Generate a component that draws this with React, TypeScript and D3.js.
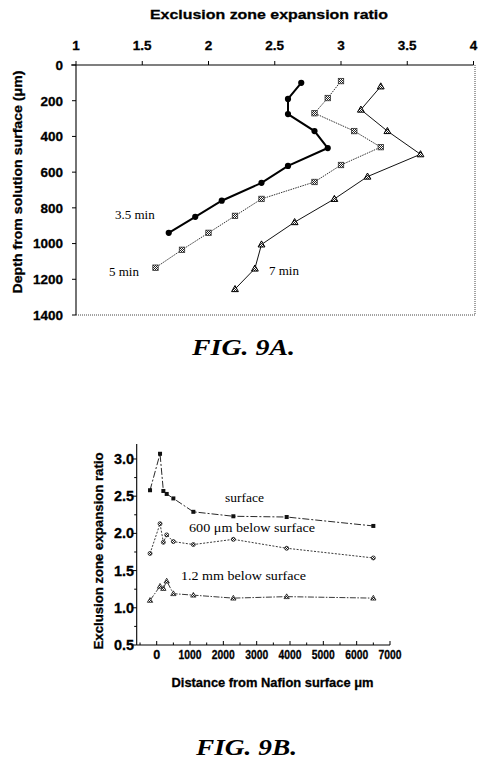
import React from 'react';
import * as d3 from 'd3';

// ---------- FIG 9A data ----------
const depthTicks = [0, 200, 400, 600, 800, 1000, 1200, 1400];
const ratioTicksTop = [1, 1.5, 2, 2.5, 3, 3.5, 4];

const min35Ratio = [2.7, 2.6, 2.6, 2.8, 2.9, 2.6, 2.4, 2.1, 1.9, 1.7];
const min35Depth = [100, 190, 275, 370, 465, 565, 660, 760, 850, 940];
const min5Ratio = [3.0, 2.9, 2.8, 3.1, 3.3, 3.0, 2.8, 2.4, 2.2, 2.0, 1.8, 1.6];
const min5Depth = [90, 185, 270, 370, 460, 560, 655, 750, 845, 940, 1035, 1135];
const min7Ratio = [3.3, 3.15, 3.35, 3.6, 3.2, 2.95, 2.65, 2.4, 2.35, 2.2];
const min7Depth = [120, 250, 370, 500, 625, 750, 880, 1005, 1140, 1255];

// ---------- FIG 9B data ----------
const distance = [-200, 100, 200, 300, 500, 1100, 2300, 3900, 6500];
const surfaceRatio = [2.58, 3.07, 2.57, 2.53, 2.47, 2.29, 2.23, 2.22, 2.1];
const below600Ratio = [1.73, 2.13, 1.88, 1.98, 1.89, 1.85, 1.92, 1.8, 1.67];
const below1200Ratio = [1.1, 1.29, 1.26, 1.36, 1.19, 1.17, 1.13, 1.15, 1.13];
const distanceTicks = [0, 1000, 2000, 3000, 4000, 5000, 6000, 7000];
const ratioTicksBottom = [0.5, 1.0, 1.5, 2.0, 2.5, 3.0];

const SANS = '"Liberation Sans", Arial, sans-serif';
const SERIF = '"Liberation Serif", "Times New Roman", serif';

export default function App() {
  // Top chart scales
  const xA = d3.scaleLinear().domain([1, 4]).range([76, 473.5]);
  const yA = d3.scaleLinear().domain([0, 1400]).range([65, 315]);
  // Bottom chart scales
  const xB = d3.scaleLinear().domain([-600, 7000]).range([136.7, 390]);
  const yB = d3.scaleLinear().domain([0.5, 3.2]).range([645, 444.1]);

  const lineA = (xs: number[], ys: number[]) =>
    d3.line<number>().x((_, i) => xA(xs[i])).y((_, i) => yA(ys[i]))(xs) || '';
  const lineB = (ys: number[]) =>
    d3.line<number>().x((_, i) => xB(distance[i])).y((_, i) => yB(ys[i]))(ys) || '';

  const tri = (cx: number, cy: number, s: number) =>
    `M${cx},${cy - s}L${cx + s * 0.95},${cy + s * 0.7}L${cx - s * 0.95},${cy + s * 0.7}Z`;

  const minorB = d3.range(0.75, 3.2, 0.5);
  const minorXB = d3.range(-500, 7000, 500).filter((v) => v % 1000 !== 0);

  return (
    <svg
      width={482}
      height={766}
      style={{ position: 'absolute', left: 0, top: 0, background: '#fff' }}
      fontFamily={SANS}
    >
      <defs>
        <pattern id="hatch" width="2" height="2" patternUnits="userSpaceOnUse">
          <rect width="2" height="2" fill="#fff" />
          <rect width="1" height="1" fill="#222" />
          <rect x="1" y="1" width="1" height="1" fill="#222" />
        </pattern>
      </defs>
      <rect width={482} height={766} fill="#fff" />

      {/* ================= FIG 9A ================= */}
      <text x={269} y={19} textAnchor="middle" fontSize={13.5} fontWeight="bold" textLength={238} lengthAdjust="spacingAndGlyphs" stroke="#000" strokeWidth={0.3}>
        Exclusion zone expansion ratio
      </text>
      {ratioTicksTop.map((t) => (
        <g key={'xt' + t}>
          <text x={xA(t)} y={50} textAnchor="middle" fontSize={13.5} fontWeight="bold" stroke="#000" strokeWidth={0.3}>
            {String(t)}
          </text>
          <line x1={xA(t)} x2={xA(t)} y1={yA(0)} y2={yA(0) - 4} stroke="#000" strokeWidth={1} />
        </g>
      ))}
      {/* axes / frame */}
      <line x1={xA(1) - 5} x2={xA(4)} y1={yA(0)} y2={yA(0)} stroke="#000" strokeWidth={1.1} />
      <line x1={xA(1)} x2={xA(1)} y1={yA(0)} y2={yA(1400)} stroke="#000" strokeWidth={1.1} />
      <line x1={xA(4) + 1.5} x2={xA(4) + 1.5} y1={yA(0)} y2={yA(1400)} stroke="#444" strokeWidth={1} strokeDasharray="1,1" />
      <line x1={xA(1)} x2={xA(4) + 1.5} y1={yA(1400)} y2={yA(1400)} stroke="#444" strokeWidth={1} strokeDasharray="1,1" />
      {depthTicks.map((t) => (
        <g key={'yt' + t}>
          <line x1={xA(1) - 4} x2={xA(1)} y1={yA(t)} y2={yA(t)} stroke="#000" strokeWidth={1} />
          <text x={63} y={yA(t) + 4.8} textAnchor="end" fontSize={13.5} fontWeight="bold" stroke="#000" strokeWidth={0.3}>
            {String(t)}
          </text>
        </g>
      ))}
      <text
        transform={`translate(22,182) rotate(-90)`}
        textAnchor="middle"
        fontSize={13.5}
        fontWeight="bold"
        textLength={223}
        lengthAdjust="spacingAndGlyphs"
        stroke="#000"
        strokeWidth={0.3}
      >
        Depth from solution surface (μm)
      </text>

      {/* series */}
      <path d={lineA(min7Ratio, min7Depth)} fill="none" stroke="#111" strokeWidth={1} />
      <path d={lineA(min5Ratio, min5Depth)} fill="none" stroke="#333" strokeWidth={1} strokeDasharray="1.5,1" />
      <path d={lineA(min35Ratio, min35Depth)} fill="none" stroke="#000" strokeWidth={2} />
      {min7Ratio.map((v, i) => (
        <path key={'m7' + i} d={tri(xA(v), yA(min7Depth[i]), 3.6)} fill="url(#hatch)" stroke="#000" strokeWidth={1} />
      ))}
      {min5Ratio.map((v, i) => (
        <rect
          key={'m5' + i}
          x={xA(v) - 2.7}
          y={yA(min5Depth[i]) - 2.7}
          width={5.4}
          height={5.4}
          fill="url(#hatch)"
          stroke="#333"
          strokeWidth={0.8}
        />
      ))}
      {min35Ratio.map((v, i) => (
        <circle key={'m35' + i} cx={xA(v)} cy={yA(min35Depth[i])} r={3.1} fill="#000" />
      ))}
      <text x={115} y={219} fontFamily={SERIF} fontSize={13}>3.5 min</text>
      <text x={109} y={276} fontFamily={SERIF} fontSize={13}>5 min</text>
      <text x={269} y={275} fontFamily={SERIF} fontSize={13}>7 min</text>

      <text x={192} y={355} fontFamily={SERIF} fontSize={24} fontWeight="bold" fontStyle="italic" textLength={103} lengthAdjust="spacingAndGlyphs">
        FIG. 9A.
      </text>

      {/* ================= FIG 9B ================= */}
      <line x1={xB(-600)} x2={xB(-600)} y1={yB(3.2)} y2={yB(0.5)} stroke="#000" strokeWidth={1.1} />
      <line x1={xB(-600)} x2={xB(7000)} y1={yB(0.5)} y2={yB(0.5)} stroke="#000" strokeWidth={1.1} />
      {ratioTicksBottom.map((t) => (
        <g key={'byt' + t}>
          <line x1={xB(-600) - 4} x2={xB(-600)} y1={yB(t)} y2={yB(t)} stroke="#000" strokeWidth={1} />
          <text x={134} y={yB(t) + 5} textAnchor="end" fontSize={14} fontWeight="bold" textLength={20} lengthAdjust="spacingAndGlyphs" stroke="#000" strokeWidth={0.3}>
            {t.toFixed(1)}
          </text>
        </g>
      ))}
      {minorB.map((t) => (
        <line key={'bmy' + t} x1={xB(-600) - 2.5} x2={xB(-600)} y1={yB(t)} y2={yB(t)} stroke="#000" strokeWidth={1} />
      ))}
      {distanceTicks.map((t) => (
        <g key={'bxt' + t}>
          <line x1={xB(t)} x2={xB(t)} y1={yB(0.5)} y2={yB(0.5) - 4} stroke="#000" strokeWidth={1} />
          <text
            x={xB(t)}
            y={659}
            textAnchor="middle"
            fontSize={13}
            fontWeight="bold"
            textLength={t === 0 ? 7 : 23}
            lengthAdjust="spacingAndGlyphs"
            stroke="#000"
            strokeWidth={0.3}
          >
            {String(t)}
          </text>
        </g>
      ))}
      {minorXB.map((t) => (
        <line key={'bmx' + t} x1={xB(t)} x2={xB(t)} y1={yB(0.5)} y2={yB(0.5) - 2.5} stroke="#000" strokeWidth={1} />
      ))}
      <text
        transform={`translate(103,551) rotate(-90)`}
        textAnchor="middle"
        fontSize={13}
        fontWeight="bold"
        textLength={197}
        lengthAdjust="spacingAndGlyphs"
        stroke="#000"
        strokeWidth={0.3}
      >
        Exclusion zone expansion ratio
      </text>
      <text x={272.5} y={687} textAnchor="middle" fontSize={13} fontWeight="bold" textLength={202} lengthAdjust="spacingAndGlyphs" stroke="#000" strokeWidth={0.3}>
        Distance from Nafion surface μm
      </text>

      <path d={lineB(surfaceRatio)} fill="none" stroke="#111" strokeWidth={0.9} strokeDasharray="7,2,2,2" />
      <path d={lineB(below600Ratio)} fill="none" stroke="#222" strokeWidth={0.9} strokeDasharray="2,1.5" />
      <path d={lineB(below1200Ratio)} fill="none" stroke="#222" strokeWidth={0.9} strokeDasharray="6,1.5,1.5,1.5" />
      {surfaceRatio.map((v, i) => (
        <rect key={'s' + i} x={xB(distance[i]) - 2} y={yB(v) - 2} width={4} height={4} fill="#111" />
      ))}
      {below600Ratio.map((v, i) => (
        <circle key={'b6' + i} cx={xB(distance[i])} cy={yB(v)} r={2} fill="url(#hatch)" stroke="#222" strokeWidth={0.8} />
      ))}
      {below1200Ratio.map((v, i) => (
        <path key={'b12' + i} d={tri(xB(distance[i]), yB(v), 2.8)} fill="url(#hatch)" stroke="#222" strokeWidth={0.8} />
      ))}
      <text x={225} y={502} fontFamily={SERIF} fontSize={13} textLength={39} lengthAdjust="spacingAndGlyphs">surface</text>
      <text x={189} y={532} fontFamily={SERIF} fontSize={13} textLength={126} lengthAdjust="spacingAndGlyphs">600 μm below surface</text>
      <text x={181} y={580} fontFamily={SERIF} fontSize={13} textLength={125} lengthAdjust="spacingAndGlyphs">1.2 mm below surface</text>

      <text x={196} y={755} fontFamily={SERIF} fontSize={24} fontWeight="bold" fontStyle="italic" textLength={101} lengthAdjust="spacingAndGlyphs">
        FIG. 9B.
      </text>
    </svg>
  );
}
